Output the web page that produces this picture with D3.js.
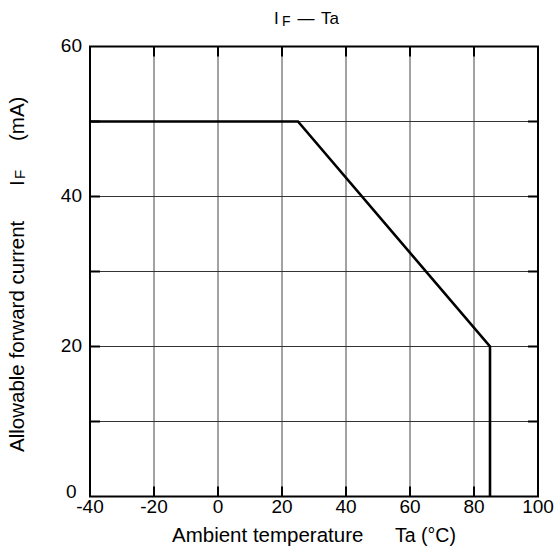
<!DOCTYPE html>
<html>
<head>
<meta charset="utf-8">
<script src="https://cdn.jsdelivr.net/npm/d3@7"></script>
<style>
body { margin: 0; background: #fff; }
text { font-family: "Liberation Sans", Arial, sans-serif; fill: #000; }
</style>
</head>
<body>
<div class="container"></div>
<script>
// derating curve IF vs Ta
var temps = [-40, 25, 85, 85];
var currents = [50, 50, 20, 0];
var xTicks = [-40, -20, 0, 20, 40, 60, 80, 100];
var yTicks = [0, 10, 20, 30, 40, 50, 60];
var yLabels = [0, 20, 40, 60];

const WIDTH = 556;
const HEIGHT = 551;
const LEFT = 90, RIGHT = 538, TOP = 46.5, BOTTOM = 496.5;

var svg = d3.select('.container').append('svg')
	.attr('width', WIDTH)
	.attr('height', HEIGHT);

var xScale = d3.scaleLinear().domain([-40, 100]).range([LEFT, RIGHT]);
var yScale = d3.scaleLinear().domain([0, 60]).range([BOTTOM, TOP]);

// grid
svg.append('g').selectAll('line').data(xTicks.slice(1, -1))
	.enter().append('line')
	.attr('x1', function(d){return xScale(d)})
	.attr('x2', function(d){return xScale(d)})
	.attr('y1', TOP).attr('y2', BOTTOM)
	.attr('stroke', '#707070').attr('stroke-width', 1.3);

svg.append('g').selectAll('line').data(yTicks.slice(1, -1))
	.enter().append('line')
	.attr('x1', LEFT).attr('x2', RIGHT)
	.attr('y1', function(d){return yScale(d)})
	.attr('y2', function(d){return yScale(d)})
	.attr('stroke', '#333').attr('stroke-width', 1);

// inner ticks
var tk = svg.append('g').attr('stroke', '#000').attr('stroke-width', 2);
xTicks.slice(1, -1).forEach(function(d){
	tk.append('line').attr('x1', xScale(d)).attr('x2', xScale(d)).attr('y1', TOP).attr('y2', TOP + 10);
	tk.append('line').attr('x1', xScale(d)).attr('x2', xScale(d)).attr('y1', BOTTOM).attr('y2', BOTTOM - 10);
});
yTicks.slice(1, -1).forEach(function(d){
	tk.append('line').attr('x1', LEFT).attr('x2', LEFT + 10).attr('y1', yScale(d)).attr('y2', yScale(d));
	tk.append('line').attr('x1', RIGHT).attr('x2', RIGHT - 10).attr('y1', yScale(d)).attr('y2', yScale(d));
});

// frame
svg.append('rect')
	.attr('x', LEFT).attr('y', TOP)
	.attr('width', RIGHT - LEFT).attr('height', BOTTOM - TOP)
	.attr('fill', 'none').attr('stroke', '#000').attr('stroke-width', 2);

// curve
var line = d3.line()
	.x(function(d, i){return xScale(temps[i])})
	.y(function(d, i){return yScale(currents[i])});
svg.append('path').datum(temps)
	.attr('d', line)
	.attr('fill', 'none').attr('stroke', '#000').attr('stroke-width', 2.6)
	.attr('stroke-linejoin', 'miter');

// tick labels
svg.append('g').selectAll('text').data(xTicks)
	.enter().append('text')
	.attr('x', function(d){return xScale(d)})
	.attr('y', 513)
	.attr('text-anchor', 'middle')
	.attr('font-size', 19)
	.text(function(d){return d});

svg.append('g').selectAll('text').data(yLabels)
	.enter().append('text')
	.attr('x', function(d){return d == 0 ? 76.5 : 82})
	.attr('y', function(d){return d == 0 ? yScale(d) + 1.5 : yScale(d) + 5.5})
	.attr('text-anchor', 'end')
	.attr('font-size', 19)
	.text(function(d){return d});

// title
var title = svg.append('text').attr('y', 24).attr('font-size', 17);
title.append('tspan').attr('x', 274).text('I');
title.append('tspan').attr('x', 282).attr('dy', 1.5).attr('font-size', 14).text('F');
title.append('tspan').attr('x', 297.5).attr('dy', -1.5).text('\u2014');
title.append('tspan').attr('x', 321).text('Ta');

// axis titles
var xl = svg.append('text').attr('y', 541.5).attr('font-size', 20.5);
xl.append('tspan').attr('x', 172).text('Ambient temperature');
xl.append('tspan').attr('x', 395).attr('font-size', 19.5).text('Ta (\u00B0C)');

var yl = svg.append('text')
	.attr('transform', 'translate(24, 0) rotate(-90)')
	.attr('font-size', 20.5);
yl.append('tspan').attr('x', -452).text('Allowable forward current');
yl.append('tspan').attr('x', -186).text('I');
yl.append('tspan').attr('x', -179).attr('dy', 1).attr('font-size', 15).text('F');
yl.append('tspan').attr('x', -141).attr('dy', -1).text('(mA)');
</script>
</body>
</html>
